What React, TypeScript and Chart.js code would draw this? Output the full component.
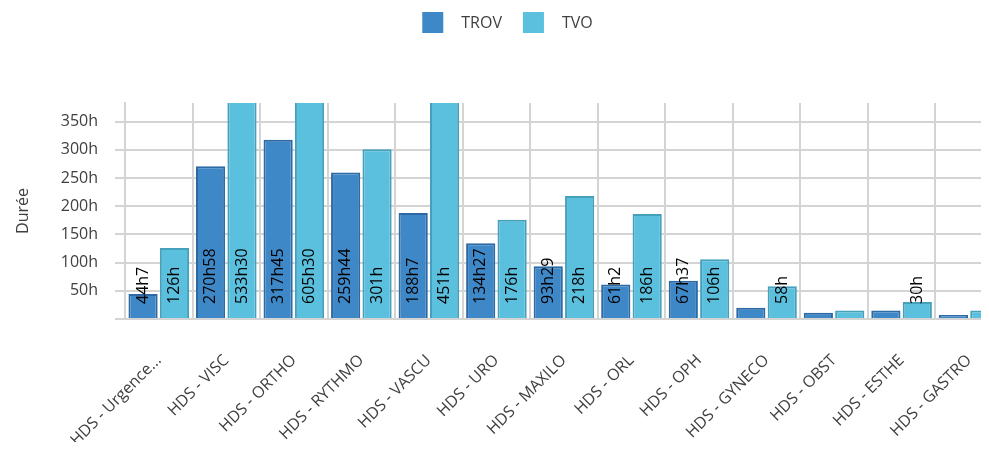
import { useEffect, useRef } from 'react';
import { Chart, registerables } from 'chart.js';

Chart.register(...registerables);

const categories = [
  'HDS - Urgence...',
  'HDS - VISC',
  'HDS - ORTHO',
  'HDS - RYTHMO',
  'HDS - VASCU',
  'HDS - URO',
  'HDS - MAXILO',
  'HDS - ORL',
  'HDS - OPH',
  'HDS - GYNECO',
  'HDS - OBST',
  'HDS - ESTHE',
  'HDS - GASTRO',
];

// durations in hours
const trovHours = [44.12, 270.97, 317.75, 259.73, 188.12, 134.45, 93.48, 61.03, 67.62, 20, 11, 15, 7];
const tvoHours = [126, 533.5, 605.5, 301, 451, 176, 218, 186, 106, 58, 15, 30, 15];

const trovLabels = ['44h7', '270h58', '317h45', '259h44', '188h7', '134h27', '93h29', '61h2', '67h37', '', '', '', ''];
const tvoLabels = ['126h', '533h30', '605h30', '301h', '451h', '176h', '218h', '186h', '106h', '58h', '', '30h', ''];

const yMax = 383;
const yStep = 50;

const FONT = "'Open Sans', sans-serif";
const GRID = '#d4d4d4';
const TEXT = '#404040';

const valueLabelSets = [trovLabels, tvoLabels];

const barLabelsPlugin = {
  id: 'barLabels',
  afterDatasetsDraw(chart: any) {
    const ctx = chart.ctx;
    chart.data.datasets.forEach((_ds: any, di: number) => {
      const meta = chart.getDatasetMeta(di);
      const labels = valueLabelSets[di];
      meta.data.forEach((bar: any, i: number) => {
        const text = labels[i];
        if (!text) return;
        const { x, base } = bar.getProps(['x', 'base'], true);
        ctx.save();
        ctx.translate(x, base - 14);
        ctx.rotate(-Math.PI / 2);
        ctx.font = `16px ${FONT}`;
        ctx.fillStyle = '#000';
        ctx.textAlign = 'left';
        ctx.textBaseline = 'middle';
        ctx.fillText(text, 0, 0);
        ctx.restore();
      });
    });
  },
};

const topLegendPlugin = {
  id: 'topLegend',
  afterDraw(chart: any) {
    const ctx = chart.ctx;
    ctx.save();
    ctx.font = `16px ${FONT}`;
    const items = chart.data.datasets.map((ds: any) => ({ text: ds.label, color: ds.backgroundColor }));
    const box = 21;
    const gap = 18;
    const spacing = 21;
    const widths = items.map((it: any) => box + gap + ctx.measureText(it.text).width);
    const total = widths.reduce((a: number, b: number) => a + b, 0) + spacing * (items.length - 1);
    let x = chart.width / 2 - total / 2;
    const y = 12;
    items.forEach((it: any, i: number) => {
      ctx.fillStyle = it.color;
      ctx.fillRect(x, y, box, box);
      ctx.fillStyle = TEXT;
      ctx.textAlign = 'left';
      ctx.textBaseline = 'middle';
      ctx.fillText(it.text, x + box + gap, y + box / 2 + 1);
      x += widths[i] + spacing;
    });
    ctx.restore();
  },
};

export default function App() {
  const canvasRef = useRef<HTMLCanvasElement | null>(null);

  useEffect(() => {
    if (!canvasRef.current) return;
    Chart.defaults.font.family = FONT;
    const chart = new Chart(canvasRef.current, {
      type: 'bar',
      data: {
        labels: categories,
        datasets: [
          {
            label: 'TROV',
            data: trovHours,
            backgroundColor: '#3f88c8',
            borderColor: '#2d69a2',
            borderWidth: 2,
            clip: 0,
          },
          {
            label: 'TVO',
            data: tvoHours,
            backgroundColor: '#5bc0de',
            borderColor: '#45a0bc',
            borderWidth: 2,
            clip: 0,
          },
        ],
      },
      options: {
        responsive: false,
        animation: false,
        layout: { padding: { top: 103, right: 8, left: 0, bottom: 0 } },
        datasets: { bar: { categoryPercentage: 0.93, barPercentage: 0.93 } },
        plugins: {
          legend: { display: false },
          tooltip: { enabled: false },
        },
        scales: {
          x: {
            grid: { color: GRID, lineWidth: 2, drawTicks: false, offset: true },
            border: { color: GRID, width: 2 },
            ticks: {
              autoSkip: false,
              maxRotation: 45,
              minRotation: 45,
              padding: 32,
              color: TEXT,
              font: { size: 16, family: FONT },
            },
            afterFit: (s: any) => {
              s.height = 131;
            },
          },
          y: {
            min: 0,
            max: yMax,
            grid: { color: GRID, lineWidth: 2, tickLength: 10 },
            border: { color: GRID, width: 2 },
            ticks: {
              stepSize: yStep,
              includeBounds: false,
              padding: 17,
              color: TEXT,
              font: { size: 16, family: FONT },
              callback: (v: any) => (v === 0 ? '' : `${v}h`),
            },
            title: {
              display: true,
              text: 'Durée',
              color: TEXT,
              font: { size: 16, family: FONT },
              padding: { top: 14, bottom: 0 },
            },
            afterFit: (s: any) => {
              s.width = 125;
            },
          },
        },
      } as any,
      plugins: [barLabelsPlugin, topLegendPlugin],
    });
    return () => chart.destroy();
  }, []);

  return (
    <div style={{ margin: -8, width: 989, height: 450, overflow: 'hidden' }}>
      <canvas ref={canvasRef} width={1015} height={450} style={{ display: 'block' }} />
    </div>
  );
}
